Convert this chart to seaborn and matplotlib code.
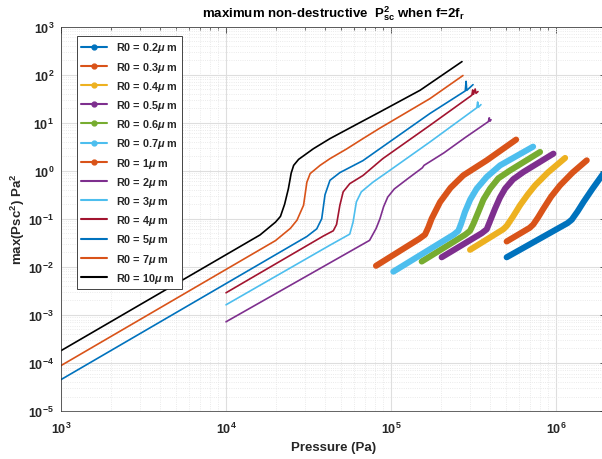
import numpy as np
import pandas as pd
import matplotlib
matplotlib.use("Agg")
import matplotlib.pyplot as plt
from matplotlib.lines import Line2D
from matplotlib.ticker import LogLocator, NullFormatter
import seaborn as sns

# ---------------- data ----------------
# thin curves: R0 = 2..10 um
p_10 = [1000, 16070, 19950, 21380, 22650, 23880, 24830, 25700, 27540, 33880, 42660, 63100, 85700, 150000, 269200]
y_10 = [1.80e-4, 0.046, 0.0851, 0.112, 0.200, 0.422, 0.891, 1.29, 1.72, 2.87, 4.65, 9.55, 16.7, 47.1, 186]

p_7 = [1000, 19950, 24550, 26920, 29510, 30900, 32360, 37150, 42660, 53700, 67610, 85110, 172200, 272900]
y_7 = [8.81e-5, 0.0351, 0.0631, 0.0933, 0.191, 0.575, 0.871, 1.29, 1.78, 2.82, 4.65, 7.59, 31.6, 95.5]

p_5 = [1000, 30900, 35480, 38020, 39810, 42660, 48980, 67610, 89130, 172200, 281800, 285100, 287700, 314100]
y_5 = [4.50e-5, 0.0427, 0.0617, 0.100, 0.316, 0.631, 0.912, 1.62, 3.16, 15.5, 45.7, 72.4, 46.8, 61.7]

p_4 = [10000, 38900, 44670, 46770, 48980, 51290, 56230, 67610, 89130, 172200, 309000, 312600, 316200, 323600, 327300, 336500]
y_4 = [2.88e-3, 0.0437, 0.0562, 0.0759, 0.191, 0.363, 0.537, 0.794, 1.78, 8.79, 37.2, 47.9, 38.9, 50.1, 40.7, 44.3]

p_3 = [10000, 42660, 56230, 58880, 61660, 66070, 77620, 97720, 172200, 331100, 335000, 338800, 350800]
y_3 = [1.62e-3, 0.0282, 0.0479, 0.0851, 0.224, 0.363, 0.575, 1.00, 3.96, 20.4, 26.9, 20.9, 23.7]

p_2 = [10000, 74130, 81280, 85700, 90160, 95500, 104700, 125900, 154900, 158500, 208900, 281800, 389000, 393600, 398100, 403600]
y_2 = [7.18e-4, 0.0355, 0.0631, 0.100, 0.178, 0.282, 0.417, 0.676, 1.15, 1.29, 2.34, 4.90, 10.5, 12.6, 10.7, 11.5]

# thick curves: R0 = 0.2..1 um
p_1 = [81100, 147900, 160700, 168300, 176200, 198200, 229100, 274200, 380200, 572800]
y_1 = [0.0105, 0.0380, 0.0468, 0.0661, 0.100, 0.222, 0.437, 0.800, 1.64, 4.43]

p_07 = [103300, 239900, 255900, 266100, 280500, 302000, 330400, 380200, 458100, 726100]
y_07 = [7.94e-3, 0.0468, 0.0562, 0.0794, 0.138, 0.251, 0.422, 0.741, 1.29, 3.16]

p_06 = [153500, 281800, 301300, 316200, 338100, 363100, 398100, 446700, 526000, 799800]
y_06 = [0.0129, 0.0468, 0.0562, 0.0794, 0.138, 0.251, 0.422, 0.692, 1.01, 2.45]

p_05 = [202800, 354800, 380200, 398100, 426600, 457100, 490900, 549500, 633900, 963800]
y_05 = [0.0158, 0.0501, 0.0603, 0.0891, 0.161, 0.275, 0.422, 0.661, 0.938, 2.26]

p_04 = [301300, 478600, 502300, 549500, 605300, 676100, 746400, 891300, 1135000]
y_04 = [0.0226, 0.0603, 0.0708, 0.112, 0.191, 0.324, 0.494, 0.912, 1.84]

p_03 = [502300, 691800, 727800, 776200, 837500, 933300, 1057000, 1259000, 1535000]
y_03 = [0.0337, 0.0646, 0.0759, 0.105, 0.161, 0.288, 0.494, 0.912, 1.64]

p_02 = [502300, 1175000, 1245000, 1349000, 1466000, 1660000, 1901000, 2138000]
y_02 = [0.0158, 0.0813, 0.0955, 0.141, 0.222, 0.417, 0.800, 1.41]

legend_labels = ["R0 = 0.2$\\mu$ m", "R0 = 0.3$\\mu$ m", "R0 = 0.4$\\mu$ m", "R0 = 0.5$\\mu$ m",
                 "R0 = 0.6$\\mu$ m", "R0 = 0.7$\\mu$ m", "R0 = 1$\\mu$ m", "R0 = 2$\\mu$ m",
                 "R0 = 3$\\mu$ m", "R0 = 4$\\mu$ m", "R0 = 5$\\mu$ m", "R0 = 7$\\mu$ m",
                 "R0 = 10$\\mu$ m"]
xtick_vals = [1e3, 1e4, 1e5, 1e6]
xtick_labels = ["$10^{3}$", "$10^{4}$", "$10^{5}$", "$10^{6}$"]
ytick_vals = [1e-5, 1e-4, 1e-3, 1e-2, 1e-1, 1e0, 1e1, 1e2, 1e3]
ytick_labels = ["$10^{-5}$", "$10^{-4}$", "$10^{-3}$", "$10^{-2}$", "$10^{-1}$",
                "$10^{0}$", "$10^{1}$", "$10^{2}$", "$10^{3}$"]

# ---------------- styling ----------------
sns.set_style("white")
plt.rcParams["font.family"] = ["Liberation Sans", "DejaVu Sans"]
plt.rcParams["font.weight"] = "bold"
plt.rcParams["mathtext.fontset"] = "custom"
plt.rcParams["mathtext.rm"] = "Liberation Sans:bold"
plt.rcParams["mathtext.it"] = "Liberation Sans:bold:italic"
plt.rcParams["mathtext.bf"] = "Liberation Sans:bold"

c_blue = "#0072BD"
c_orange = "#D95319"
c_yellow = "#EDB120"
c_purple = "#7E2F8E"
c_green = "#77AC30"
c_lblue = "#4DBEEE"
c_red = "#A2142F"
c_black = "#000000"

thick = [(p_02, y_02, c_blue), (p_03, y_03, c_orange), (p_04, y_04, c_yellow),
         (p_05, y_05, c_purple), (p_06, y_06, c_green), (p_07, y_07, c_lblue),
         (p_1, y_1, c_orange)]
thin = [(p_2, y_2, c_purple), (p_3, y_3, c_lblue), (p_4, y_4, c_red),
        (p_5, y_5, c_blue), (p_7, y_7, c_orange), (p_10, y_10, c_black)]

fig = plt.figure(figsize=(6.02, 4.60), dpi=100)
ax = fig.add_axes([61 / 602, (460 - 412) / 460, 544.7 / 602, 384.5 / 460])
ax.set_xscale("log")
ax.set_yscale("log")

for p, y, c in thick:
    sns.lineplot(x=p, y=y, ax=ax, color=c, lw=4.4, sort=False, estimator=None,
                 solid_capstyle="round", solid_joinstyle="round")
for p, y, c in thin:
    sns.lineplot(x=p, y=y, ax=ax, color=c, lw=1.2, sort=False, estimator=None)

ax.set_xlim(1e3, 2e6)
ax.set_ylim(1e-5, 1e3)
ax.set_xticks(xtick_vals)
ax.set_xticklabels(xtick_labels)
ax.set_yticks(ytick_vals)
ax.set_yticklabels(ytick_labels)
ax.xaxis.set_minor_locator(LogLocator(base=10, subs=np.arange(2, 10), numticks=100))
ax.yaxis.set_minor_locator(LogLocator(base=10, subs=np.arange(2, 10), numticks=100))
ax.xaxis.set_minor_formatter(NullFormatter())
ax.yaxis.set_minor_formatter(NullFormatter())

ax.grid(which="major", color="#dedede", lw=0.8, ls="-")
ax.grid(which="minor", color="#e4e4e4", lw=0.6, ls=":")
ax.set_axisbelow(True)
ax.tick_params(which="both", direction="in", top=True, right=True, colors="#262626",
               labelsize=9, width=0.5)
ax.tick_params(which="major", length=4)
ax.tick_params(which="minor", length=2)
ax.tick_params(axis="x", which="major", pad=7)
ax.tick_params(axis="y", which="major", pad=5)
for s in ax.spines.values():
    s.set_color("#262626")
    s.set_linewidth(0.5)

ax.set_xlabel("Pressure (Pa)", fontsize=9.5, fontweight="bold", color="#262626", labelpad=4)
ax.set_ylabel("max(Psc$^{2}$) Pa$^{2}$", fontsize=9.5, fontweight="bold", color="#262626", labelpad=1)
ax.set_title("maximum non-destructive  $\\mathrm{P}^{2}_{\\mathrm{sc}}$ when f=2f$_{\\mathrm{r}}$",
             fontsize=9.5, fontweight="bold", color="#000000", pad=7)

colors_leg = [c_blue, c_orange, c_yellow, c_purple, c_green, c_lblue, c_orange,
              c_purple, c_lblue, c_red, c_blue, c_orange, c_black]
handles = []
for i, (lab, c) in enumerate(zip(legend_labels, colors_leg)):
    if i < 7:
        handles.append(Line2D([], [], color=c, lw=1.5, marker="o", ms=3.5, label=lab))
    else:
        handles.append(Line2D([], [], color=c, lw=1.5, label=lab))
leg = ax.legend(handles=handles, loc="upper left", bbox_to_anchor=(16 / 544.7, (412 - 37) / 384.5),
                borderaxespad=0, fontsize=7.8, frameon=True, fancybox=False, framealpha=1,
                edgecolor="#262626", labelspacing=0.48, handlelength=2.4, handletextpad=0.8,
                borderpad=0.4)
leg.get_frame().set_linewidth(0.6)
for t in leg.get_texts():
    t.set_fontweight("bold")

fig.savefig("out.png", dpi=100)
